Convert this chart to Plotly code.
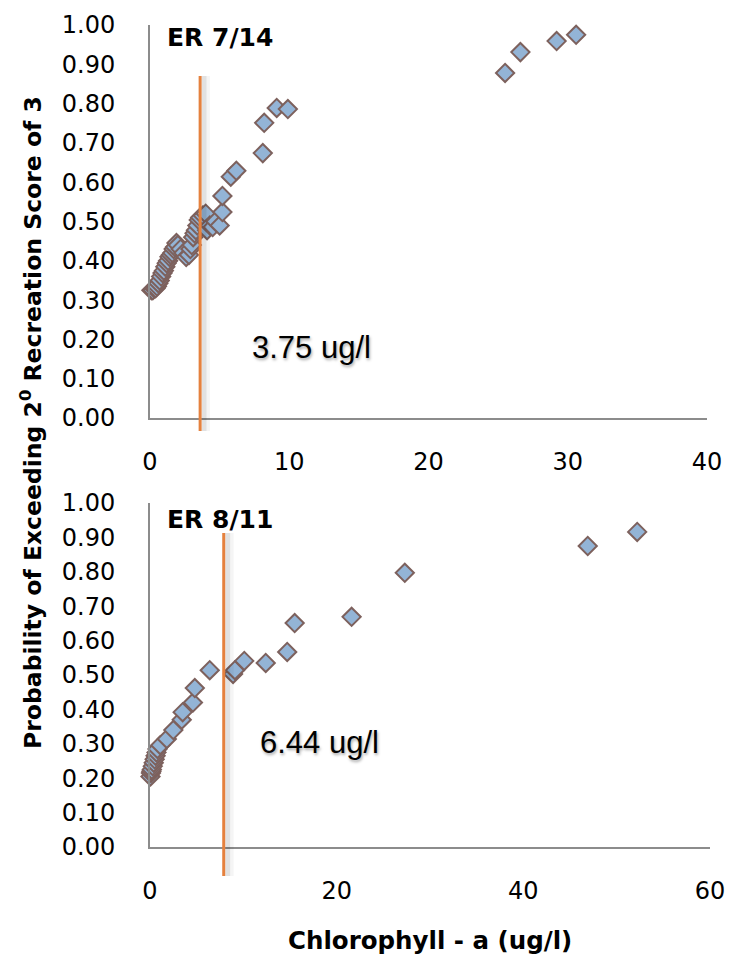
import plotly.graph_objects as go

# ---- data ----
er714_chl = [0.1, 0.2, 0.3, 0.4, 0.5, 0.6, 0.7, 0.8, 0.9, 1.0, 1.1, 1.2, 1.3, 1.4, 1.5,
             1.6, 1.7, 1.8, 1.9, 2.0, 2.2, 2.4, 2.6, 2.8, 2.9, 3.0, 3.1, 3.2, 3.3, 3.4,
             3.5, 3.6, 3.8, 4.0, 4.1, 4.3, 4.5, 4.7, 5.0, 5.2, 5.2, 5.8, 6.2, 8.1, 8.2,
             9.1, 9.9, 25.5, 26.6, 29.2, 30.6]
er714_prob = [0.325, 0.325, 0.33, 0.33, 0.335, 0.343, 0.35, 0.36, 0.369, 0.375, 0.385,
              0.394, 0.40, 0.41, 0.415, 0.42, 0.43, 0.435, 0.445, 0.44, 0.43, 0.42, 0.41,
              0.415, 0.43, 0.44, 0.46, 0.47, 0.478, 0.49, 0.504, 0.51, 0.515, 0.52, 0.478,
              0.49, 0.486, 0.50, 0.49, 0.524, 0.565, 0.614, 0.629, 0.674, 0.751, 0.789,
              0.786, 0.878, 0.931, 0.959, 0.975]

er811_chl = [0.05, 0.1, 0.15, 0.2, 0.3, 0.4, 0.5, 0.6, 0.7, 0.8, 1.1, 1.8, 2.5, 3.4, 3.5,
             4.6, 4.8, 6.4, 8.9, 9.1, 10.1, 12.4, 14.7, 15.5, 21.6, 27.3, 46.9, 52.2]
er811_prob = [0.205, 0.215, 0.22, 0.225, 0.235, 0.245, 0.255, 0.265, 0.275, 0.285, 0.296,
              0.314, 0.34, 0.37, 0.392, 0.42, 0.462, 0.514, 0.503, 0.514, 0.541, 0.535,
              0.567, 0.651, 0.669, 0.797, 0.875, 0.916]

threshold_top_x = 3.6      # drawn position of the 3.75 ug/l line
threshold_bot_x = 7.9      # drawn position of the 6.44 ug/l line
threshold_top_label = "3.75 ug/l"
threshold_bot_label = "6.44 ug/l"
panel_titles = ["ER 7/14", "ER 8/11"]
x_ticks_top = [0, 10, 20, 30, 40]
x_ticks_bot = [0, 20, 40, 60]
y_ticks = [0.0, 0.1, 0.2, 0.3, 0.4, 0.5, 0.6, 0.7, 0.8, 0.9, 1.0]

# ---- styling ----
W, H = 738, 955
FILL = "#93B4D6"
EDGE = "#7D615D"
ORANGE = "#E5813E"
AXIS = "#8C8C8C"
TICKFONT = dict(family="DejaVu Sans", size=24, color="#000000")

def px_y(p):
    return 1 - p / H

marker = dict(symbol="diamond", size=14, color=FILL, line=dict(color=EDGE, width=2))

fig = go.Figure()
fig.add_trace(go.Scatter(x=er714_chl, y=er714_prob, mode="markers", marker=marker,
                         xaxis="x", yaxis="y", cliponaxis=False, showlegend=False))
fig.add_trace(go.Scatter(x=er811_chl, y=er811_prob, mode="markers", marker=marker,
                         xaxis="x2", yaxis="y2", cliponaxis=False, showlegend=False))

xdom_top = [150 / W, 707 / W]
xdom_bot = [150 / W, 710 / W]
ydom_top = [px_y(418), px_y(25)]
ydom_bot = [px_y(847), px_y(503)]

common_x = dict(showgrid=False, zeroline=False, showline=True, linecolor=AXIS, linewidth=2,
                ticks="", tickfont=TICKFONT, ticklabelstandoff=21, automargin=False)
common_y = dict(showgrid=False, zeroline=False, showline=True, linecolor=AXIS, linewidth=2,
                ticks="", tickfont=TICKFONT, tickformat=".2f", tickvals=y_ticks,
                range=[0, 1], ticklabelstandoff=28, automargin=False)

fig.update_layout(
    width=W, height=H,
    margin=dict(l=0, r=0, t=0, b=0, autoexpand=False),
    paper_bgcolor="white", plot_bgcolor="white",
    xaxis=dict(domain=xdom_top, anchor="y", range=[0, 40], tickvals=x_ticks_top, **common_x),
    yaxis=dict(domain=ydom_top, anchor="x", **common_y),
    xaxis2=dict(domain=xdom_bot, anchor="y2", range=[0, 60], tickvals=x_ticks_bot, **common_x),
    yaxis2=dict(domain=ydom_bot, anchor="x2", **common_y),
)

# threshold lines with soft shadow
def vline(xref, xval, shadow_dx, y_top_px, y_bot_px):
    for dx, w, a in [(shadow_dx * 1.5, 8, 0.04), (shadow_dx, 5, 0.08)]:
        fig.add_shape(type="line", xref=xref, yref="paper", x0=xval + dx, x1=xval + dx,
                      y0=px_y(y_bot_px), y1=px_y(y_top_px),
                      line=dict(color=f"rgba(0,0,0,{a})", width=w))
    fig.add_shape(type="line", xref=xref, yref="paper", x0=xval, x1=xval,
                  y0=px_y(y_bot_px), y1=px_y(y_top_px),
                  line=dict(color=ORANGE, width=3))

vline("x", threshold_top_x, 0.28, 76, 431)
vline("x2", threshold_bot_x, 0.42, 533, 876)

shadow = "1px 2px 3px rgba(0,0,0,0.35)"
lblfont = dict(family="Liberation Sans", size=31, color="#000", shadow=shadow)
fig.add_annotation(x=11.6, y=px_y(347), xref="x", yref="paper", text=threshold_top_label,
                   showarrow=False, font=lblfont)
fig.add_annotation(x=18.2, y=px_y(762), xref="x2", yref="paper", text=threshold_bot_label,
                   showarrow=False, font=lblfont)

panelfont = dict(family="DejaVu Sans", size=25, color="#000", weight="bold")
fig.add_annotation(x=5.0, y=px_y(21), xref="x", yref="paper", text=panel_titles[0],
                   showarrow=False, font=panelfont)
fig.add_annotation(x=7.5, y=px_y(519), xref="x2", yref="paper", text=panel_titles[1],
                   showarrow=False, font=panelfont)

fig.add_annotation(x=430 / W, y=px_y(940), xref="paper", yref="paper", xanchor="center",
                   yanchor="middle", text="Chlorophyll - a (ug/l)", showarrow=False,
                   font=dict(family="DejaVu Sans", size=24.5, color="#000", weight="bold"))
fig.add_annotation(x=31 / W, y=px_y(423), xref="paper", yref="paper", textangle=-90,
                   xanchor="center", yanchor="middle",
                   text="Probability of Exceeding 2<sup>0</sup> Recreation Score of 3",
                   showarrow=False,
                   font=dict(family="DejaVu Sans", size=23.5, color="#000", weight="bold"))

fig.write_html("out.html", config={"displayModeBar": False},
               post_script="document.body.style.margin='0';")
